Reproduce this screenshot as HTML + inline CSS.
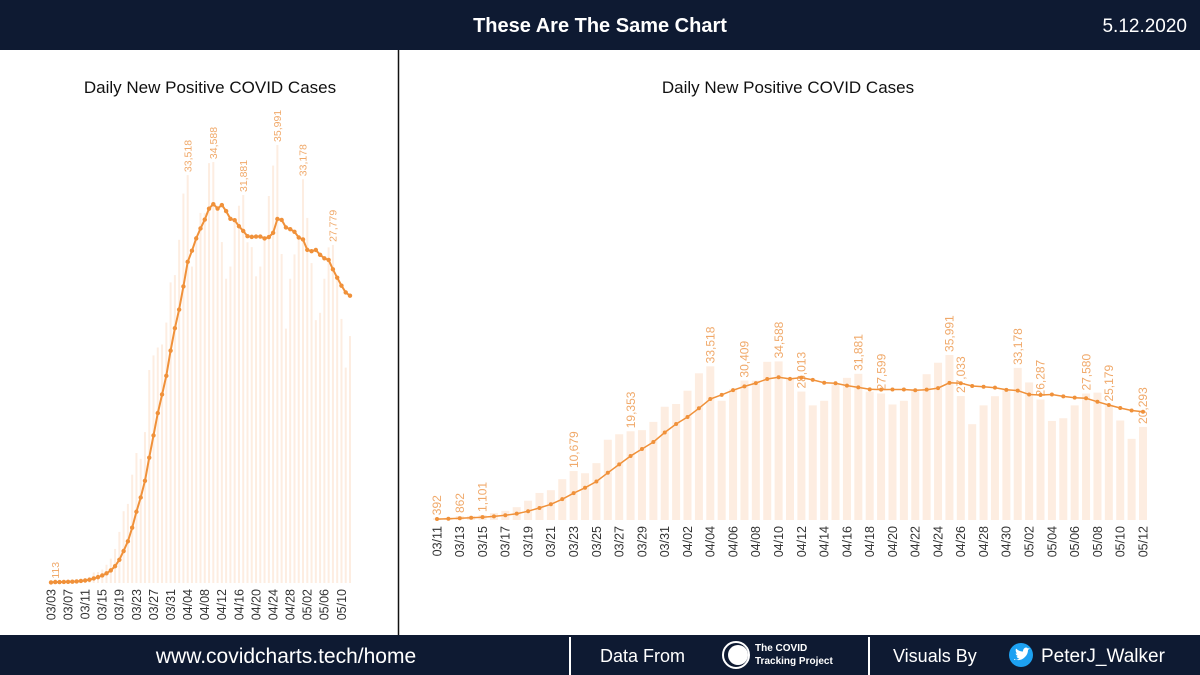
<!DOCTYPE html>
<html><head><meta charset="utf-8"><style>
body{margin:0;background:#fff;}
svg{display:block;font-family:"Liberation Sans",sans-serif;}
</style></head><body>
<svg id="root" width="1200" height="675" viewBox="0 0 1200 675" xmlns="http://www.w3.org/2000/svg">
<rect x="0" y="0" width="1200" height="675" fill="#fff"/>
<rect x="0" y="0" width="1200" height="50" fill="#0e1a32"/>
<text x="600" y="32" text-anchor="middle" fill="#fff" font-size="20" font-weight="bold">These Are The Same Chart</text>
<text x="1187" y="32" text-anchor="end" fill="#fff" font-size="19">5.12.2020</text>
<line x1="398.5" y1="50" x2="398.5" y2="635" stroke="#111" stroke-width="1.5"/>
<text x="210" y="93" text-anchor="middle" fill="#111" font-size="17">Daily New Positive COVID Cases</text>
<text x="788" y="93" text-anchor="middle" fill="#111" font-size="17">Daily New Positive COVID Cases</text>
<g id="left"></g>
<g id="right"></g>
<rect x="0" y="635" width="1200" height="40" fill="#0e1a32"/>
<line x1="570" y1="637" x2="570" y2="675" stroke="#fff" stroke-width="2"/>
<line x1="869" y1="637" x2="869" y2="675" stroke="#fff" stroke-width="2"/>
<text x="286" y="663" text-anchor="middle" fill="#fff" font-size="21">www.covidcharts.tech/home</text>
<text x="600" y="662" fill="#fff" font-size="18">Data From</text>
<g>
<circle cx="736" cy="655" r="13" fill="none" stroke="#fff" stroke-width="2"/>
<circle cx="738" cy="655" r="10" fill="#fff"/>
<text x="755" y="651" fill="#fff" font-size="10" font-weight="bold">The COVID</text>
<text x="755" y="664" fill="#fff" font-size="10" font-weight="bold">Tracking Project</text>
</g>
<text x="893" y="662" fill="#fff" font-size="18">Visuals By</text>
<circle cx="1021" cy="655" r="12" fill="#1da1f2"/>
<path d="M1014 659 q6 3 11 -2 q3 -3 3 -7 l2 -2 l-2 0.5 q-2 -2 -4 0 q-1 1 -1 3 q-4 0 -7 -3 q-1 3 1 5 l-1.5 0 q0.5 2 2.5 2.5 l-1.5 0.5 q1 2 3 2 q-2 1.5 -5.5 1.5z" fill="#fff"/>
<text x="1041" y="662" fill="#fff" font-size="19">PeterJ_Walker</text>
</svg>
<script>
// Daily new positive cases, 03/03 .. 05/12
const dates = [];
(function(){const m=[[3,3,31],[4,1,30],[5,1,12]];for(const [mo,s,e] of m){for(let d=s;d<=e;d++){dates.push(String(mo).padStart(2,'0')+'/'+String(d).padStart(2,'0'));}}})();
const cases = [50,113,70,120,140,150,280,290,
392,500,862,900,1101,1500,2000,2800,4200,5900,6500,8900,10679,10200,12400,17500,18700,19353,19600,21400,24700,
25300,28200,32000,33518,26000,28500,30409,30400,34500,34588,31000,28013,25000,26000,29600,31000,31881,28000,27599,25200,26000,28500,31800,34300,35991,27033,20900,25000,27000,28500,
33178,30000,26287,21600,22200,25000,27580,27779,25179,21700,17700,20293];
const leftLabels = ['03/04','04/04','04/10','04/17','04/25','05/01','05/08'];
const rightLabels = ['03/11','03/13','03/15','03/23','03/28','04/04','04/07','04/10','04/12','04/17','04/19','04/25','04/26','05/01','05/03','05/07','05/09','05/12'];
const rightStart = '03/11';

const NS='http://www.w3.org/2000/svg';
function mk(tag,attrs,parent){const e=document.createElementNS(NS,tag);for(const k in attrs)e.setAttribute(k,attrs[k]);parent.appendChild(e);return e;}
const avg = cases.map((v,i)=>{const s=cases.slice(Math.max(0,i-6),i+1);return s.reduce((a,b)=>a+b,0)/s.length;});
const fmt = v=>v.toLocaleString('en-US');

function draw(g, startIdx, x0, x1, base, pxPer1000, barW, tickStep, labels, tickFs, valFs, r){
  const n = cases.length - startIdx;
  const xs = i => x0 + (i-startIdx)*(x1-x0)/(n-1);
  const ys = v => base - v*pxPer1000/1000;
  for(let i=startIdx;i<cases.length;i++){
    const b = mk('rect',{x:xs(i)-barW/2,y:ys(cases[i]),width:barW,height:base-ys(cases[i]),fill:'#fdede1'},g);
    
    
    if((i-startIdx)%tickStep===0){
      const t = mk('text',{transform:`translate(${xs(i)+tickFs*0.35},${base+6}) rotate(-90)`,'text-anchor':'end',fill:'#333','font-size':tickFs},g);
      t.textContent = dates[i];
      
      
    }
    if(labels.includes(dates[i])){
      const t = mk('text',{transform:`translate(${xs(i)+valFs*0.35},${ys(cases[i])-3}) rotate(-90)`,'text-anchor':'start',fill:'#f0a96a','font-size':valFs},g);
      t.textContent = fmt(cases[i]);
      
      
    }
  }
  let d='';
  for(let i=startIdx;i<cases.length;i++){d+=(i===startIdx?'M':'L')+xs(i).toFixed(1)+' '+ys(avg[i]).toFixed(1);}
  const p = mk('path',{d:d,fill:'none',stroke:'#f0913a','stroke-width':r>2?2:1.5},g);
  
  
  for(let i=startIdx;i<cases.length;i++){
    const c = mk('circle',{cx:xs(i),cy:ys(avg[i]),r:r,fill:'#f0913a'},g);
    
    
  }
}
draw(document.getElementById('left'),0,51,350,583,12.17,2,4,leftLabels,12.5,10.5,2.2);
draw(document.getElementById('right'),dates.indexOf(rightStart),437,1143,520,4.585,8,2,rightLabels,12.5,12,2);
</script>
</body></html>
